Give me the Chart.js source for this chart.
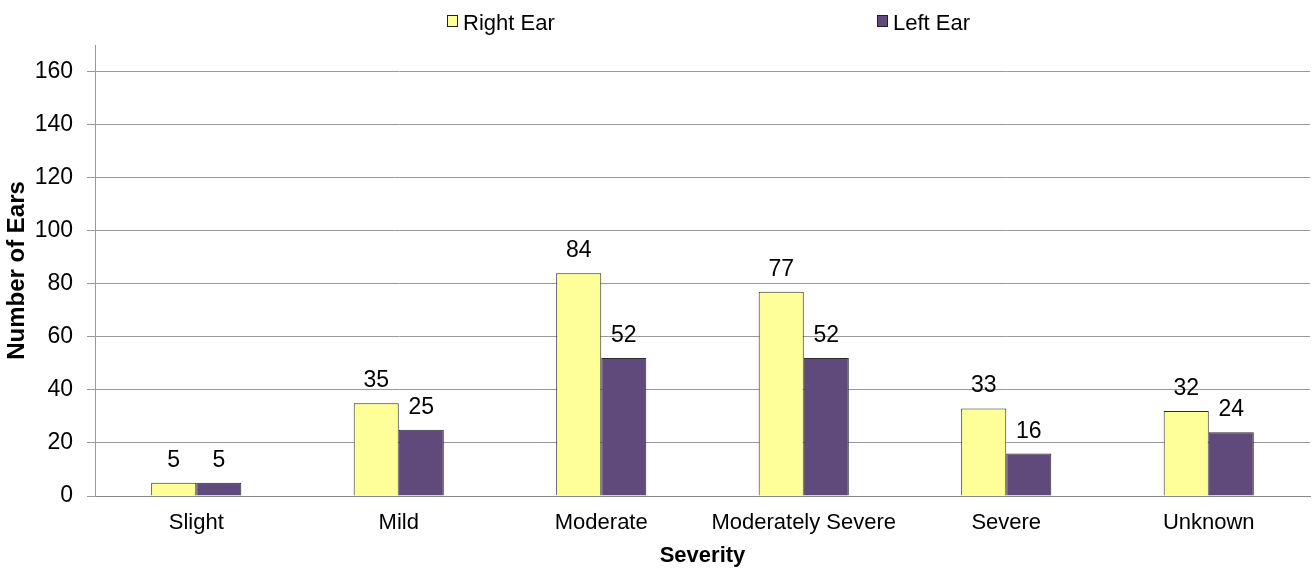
<!DOCTYPE html>
<html>
<head>
<meta charset="utf-8">
<script src="https://cdn.jsdelivr.net/npm/chart.js@4.4.0/dist/chart.umd.min.js"></script>
<style>
  html, body { margin: 0; padding: 0; background: #fff; }
  #wrap { width: 1313px; height: 573px; }
</style>
</head>
<body>
<div id="wrap"><canvas id="earChart"></canvas></div>
<script>
// data
const categories = ['Slight', 'Mild', 'Moderate', 'Moderately Severe', 'Severe', 'Unknown'];
const rightEar = [5, 35, 84, 77, 33, 32];
const leftEar = [5, 25, 52, 52, 16, 24];
const yTicks = [0, 20, 40, 60, 80, 100, 120, 140, 160];

const FONT = '"Liberation Sans", Arial, sans-serif';

// value labels above each bar
const barLabels = {
	id: 'barLabels',
	afterDatasetsDraw(chart) {
		const ctx = chart.ctx;
		ctx.save();
		ctx.font = '23px ' + FONT;
		ctx.fillStyle = '#000';
		ctx.textAlign = 'center';
		ctx.textBaseline = 'alphabetic';
		chart.data.datasets.forEach((ds, i) => {
			chart.getDatasetMeta(i).data.forEach((bar, j) => {
				ctx.fillText(ds.data[j], bar.x, bar.y - 16);
			});
		});
		ctx.restore();
	}
};

// legend spread across the top like the original
const topLegend = {
	id: 'topLegend',
	afterDraw(chart) {
		const ctx = chart.ctx;
		const spots = [447, 877];
		ctx.save();
		ctx.font = '22px ' + FONT;
		ctx.textBaseline = 'alphabetic';
		ctx.textAlign = 'left';
		chart.data.datasets.forEach((ds, i) => {
			const x = spots[i];
			ctx.fillStyle = ds.backgroundColor;
			ctx.fillRect(x, 15, 10, 11);
			ctx.strokeStyle = '#222';
			ctx.lineWidth = 1;
			ctx.strokeRect(x + 0.5, 15.5, 10, 11);
			ctx.fillStyle = '#000';
			ctx.fillText(ds.label, x + 16, 30);
		});
		ctx.restore();
	}
};

const data = {
	labels: categories,
	datasets: [{
		label: 'Right Ear',
		data: rightEar,
		backgroundColor: '#FFFF99',
		borderColor: '#2b2b2b',
		borderWidth: 1
	}, {
		label: 'Left Ear',
		data: leftEar,
		backgroundColor: '#604A7B',
		borderColor: '#2b2b2b',
		borderWidth: 1
	}]
};

const config = {
	type: 'bar',
	data: data,
	options: {
		responsive: true,
		maintainAspectRatio: false,
		animation: false,
		layout: { padding: { top: 45, right: 3, left: 0, bottom: 4 } },
		datasets: {
			bar: { barPercentage: 1, categoryPercentage: 0.445 }
		},
		plugins: {
			legend: { display: false },
			tooltip: { enabled: false }
		},
		scales: {
			x: {
				afterFit(scale) { scale.height = 73; },
				grid: { display: false },
				border: { color: '#888', width: 1 },
				ticks: {
					color: '#000',
					font: { family: FONT, size: 22 },
					padding: 6,
					maxRotation: 0,
					autoSkip: false
				},
				title: {
					display: true,
					text: 'Severity',
					color: '#000',
					font: { family: FONT, size: 22, weight: 'bold' },
					padding: { top: 6, bottom: 0 }
				}
			},
			y: {
				min: 0,
				max: 170,
				afterFit(scale) { scale.width = 95; },
				afterBuildTicks(axis) {
					axis.ticks = yTicks.map(v => ({ value: v }));
				},
				grid: { color: '#999', tickLength: 8 },
				border: { color: '#999' },
				ticks: { color: '#000', font: { family: FONT, size: 23 }, padding: 14 },
				title: {
					display: true,
					text: 'Number of Ears',
					color: '#000',
					font: { family: FONT, size: 24, weight: 'bold' },
					padding: { top: 3, bottom: 4 }
				}
			}
		}
	},
	plugins: [barLabels, topLegend]
};

new Chart(document.getElementById('earChart'), config);
</script>
</body>
</html>
